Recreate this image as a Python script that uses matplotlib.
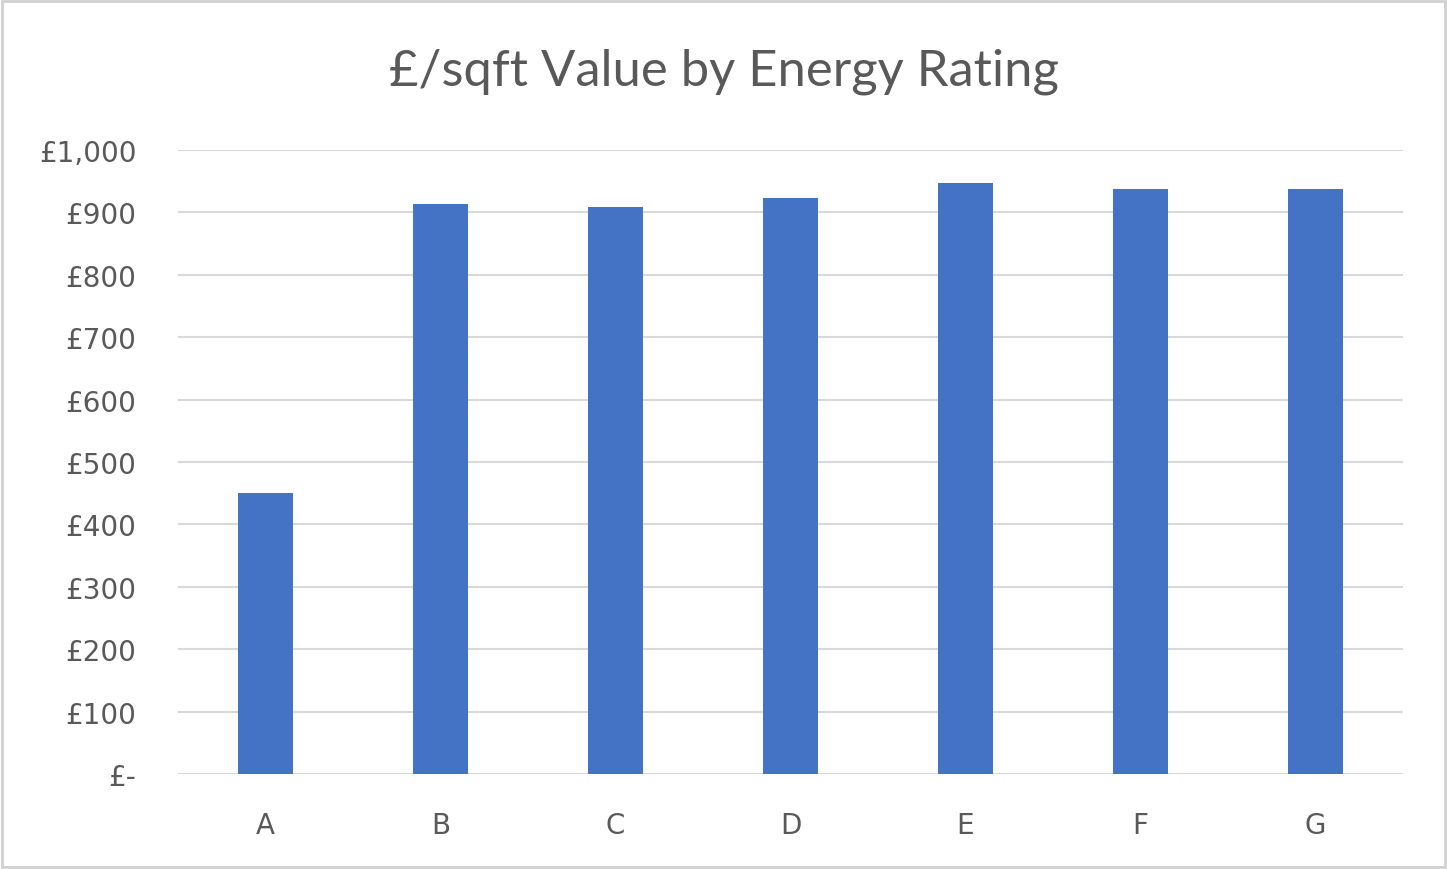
import matplotlib; matplotlib.use("Agg")
import matplotlib.pyplot as plt
from matplotlib.patches import Rectangle

ratings = ["A", "B", "C", "D", "E", "F", "G"]
value_per_sqft = [450, 913, 909, 923, 947, 937, 937]
yticks = [0, 100, 200, 300, 400, 500, 600, 700, 800, 900, 1000]
ytick_labels = ["£-", "£100", "£200", "£300", "£400", "£500", "£600", "£700", "£800", "£900", "£1,000"]

TXT = "#595959"
fig = plt.figure(figsize=(14.47, 8.70), dpi=100)
fig.patch.set_facecolor("white")
ax = fig.add_axes([178/1447, 1-775/870, (1403-178)/1447, (775-151)/870])

x = range(len(ratings))
ax.bar(x, value_per_sqft, width=0.31, color="#4472C4", zorder=3)
ax.set_xlim(-0.5, len(ratings)-0.5)
ax.set_ylim(0, 1000)
ax.set_yticks(yticks)
ax.set_yticklabels(ytick_labels, fontsize=20, color=TXT)
ax.set_xticks(list(x))
ax.set_xticklabels(ratings, fontsize=20, color=TXT)
ax.tick_params(axis="both", length=0)
ax.tick_params(axis="y", pad=30)
ax.tick_params(axis="x", pad=27)
ax.grid(axis="y", color="#D9D9D9", lw=1.5, zorder=0)
for s in ["top", "right", "left", "bottom"]:
    ax.spines[s].set_visible(False)
ax.axhline(0, color="#D9D9D9", lw=1.5, zorder=2)

fig.text(0.5, 1-72/870, "£/sqft Value by Energy Rating", ha="center", va="center",
         fontsize=36.5, color=TXT, family="Lato")
fig.patches.append(Rectangle((0.0015, 0.002), 0.997, 0.996, transform=fig.transFigure,
                             fill=False, edgecolor="#D0D0D0", lw=2))
fig.savefig("out.png", facecolor="white")
